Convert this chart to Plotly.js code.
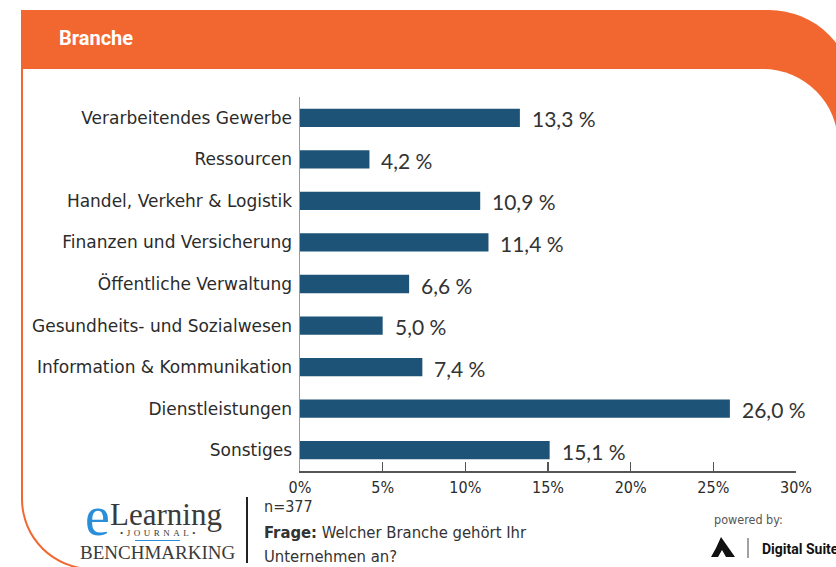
<!DOCTYPE html>
<html>
<head>
<meta charset="utf-8">
<script src="https://cdn.plot.ly/plotly-3.0.1.min.js"></script>
<style>
  html, body { margin:0; padding:0; width:836px; height:567px; overflow:hidden; background:#ffffff; }
  #frame { position:absolute; left:21px; top:10px; width:833px; height:560px; background:#F26730;
           border-radius:0 85px 0 71px; }
  #inner { position:absolute; left:23px; top:69px; width:815px; height:499px; background:#ffffff;
           border-radius:0 75px 0 69px; }
  #chart { position:absolute; left:0; top:0; width:836px; height:567px; }
</style>
</head>
<body>
<div id="frame"></div>
<div id="inner"></div>
<div id="chart"></div>
<script>
// ---- data ----
const categories = [
  "Verarbeitendes Gewerbe",
  "Ressourcen",
  "Handel, Verkehr & Logistik",
  "Finanzen und Versicherung",
  "Öffentliche Verwaltung",
  "Gesundheits- und Sozialwesen",
  "Information & Kommunikation",
  "Dienstleistungen",
  "Sonstiges"
];
const values = [13.3, 4.2, 10.9, 11.4, 6.6, 5.0, 7.4, 26.0, 15.1];
const tickValues = [0, 5, 10, 15, 20, 25, 30];
const tickLabels = ["0%", "5%", "10%", "15%", "20%", "25%", "30%"];
const chartTitle = "Branche";
const sampleNote = "n=377";
const questionLabel = "Frage:";
const questionLine1 = "Welcher Branche gehört Ihr";
const questionLine2 = "Unternehmen an?";

// ---- geometry helpers (plot area in pixels) ----
const W = 836, H = 567;
const M = {l:300, r:40, t:97, b:96};
const PW = W - M.l - M.r, PH = H - M.t - M.b;
const px = x => (x - M.l) / PW;
const py = y => (H - M.b - y) / PH;

const barColor = "#1c5376";
const textColor = "#2b2b2b";

const trace = {
  type: "bar",
  orientation: "h",
  x: values,
  y: categories,
  marker: {color: barColor},
  width: 0.44,
  hoverinfo: "skip"
};

const valueAnn = values.map((v, i) => ({
  x: v, y: categories[i], xref: "x", yref: "y",
  text: v.toFixed(1).replace(".", ",") + " %",
  showarrow: false, xanchor: "left", yanchor: "middle", xshift: 10, yshift: -1,
  font: {family: "Lato", size: 21, color: "#333333", weight: 400}
}));

const footerAnn = [
  {x: px(57), y: py(38), text: "<b>" + chartTitle + "</b>", xanchor: "left", yanchor: "middle",
   font: {family: "Roboto", size: 20, color: "#ffffff"}},
  {x: px(262), y: py(506), text: sampleNote, xanchor: "left", yanchor: "middle",
   font: {family: "DejaVu Sans Condensed", size: 16, color: "#333333"}},
  {x: px(262), y: py(532), text: "<b>" + questionLabel + "</b> " + questionLine1, xanchor: "left", yanchor: "middle",
   font: {family: "DejaVu Sans Condensed", size: 16.5, color: "#333333"}},
  {x: px(262), y: py(556), text: questionLine2, xanchor: "left", yanchor: "middle",
   font: {family: "DejaVu Sans Condensed", size: 16.5, color: "#333333"}},
  {x: px(712), y: py(519), text: "powered by:", xanchor: "left", yanchor: "middle",
   font: {family: "DejaVu Sans Condensed", size: 12.5, color: "#555555"}},
  {x: px(760), y: py(549), text: "<b>Digital Suite</b>", xanchor: "left", yanchor: "middle",
   font: {family: "Roboto", size: 14, color: "#111111"}},
  // eLearning logo
  {x: px(83), y: py(516), text: "e", xanchor: "left", yanchor: "middle",
   font: {family: "Liberation Serif", size: 56, color: "#2a8fd8"}},
  {x: px(108), y: py(514), text: "Learning", xanchor: "left", yanchor: "middle",
   font: {family: "Liberation Serif", size: 31, color: "#3a3a3a"}},
  {x: px(159), y: py(533), text: '<span style="letter-spacing:3.5px">•JOURNAL•</span>', xanchor: "center", yanchor: "middle",
   font: {family: "Liberation Serif", size: 9, color: "#3a3a3a"}},
  {x: px(157), y: py(552), text: "BENCHMARKING", xanchor: "center", yanchor: "middle",
   font: {family: "Liberation Serif", size: 19, color: "#3a3a3a"}}
].map(a => Object.assign({xref: "paper", yref: "paper", showarrow: false}, a));

const shapes = [
  // divider line in footer
  {type: "line", xref: "paper", yref: "paper", x0: px(247), x1: px(247), y0: py(497), y1: py(563),
   line: {color: "#222222", width: 2}},
  // blue underline in logo
  {type: "line", xref: "paper", yref: "paper", x0: px(135), x1: px(180), y0: py(540.5), y1: py(540.5),
   line: {color: "#2a8fd8", width: 1}},
  // Digital Suite divider
  {type: "line", xref: "paper", yref: "paper", x0: px(748), x1: px(748), y0: py(538), y1: py(558),
   line: {color: "#444444", width: 1}},
  // Digital Suite mark (delta-like glyph)
  {type: "path", xref: "paper", yref: "paper",
   path: "M " + px(721) + "," + py(537) + " L " + px(735) + "," + py(557) + " L " + px(726) + "," + py(557) +
         " L " + px(722) + "," + py(550) + " L " + px(718) + "," + py(557) + " L " + px(711) + "," + py(557) +
         " L " + px(716) + "," + py(548) + " Z",
   fillcolor: "#111111", line: {width: 0}}
];

const layout = {
  width: W, height: H,
  margin: M,
  paper_bgcolor: "rgba(0,0,0,0)",
  plot_bgcolor: "rgba(0,0,0,0)",
  showlegend: false,
  xaxis: {
    range: [0, 30], tickvals: tickValues, ticktext: tickLabels,
    showgrid: false, zeroline: false, showline: true, linecolor: "#555555", linewidth: 1.5,
    ticks: "inside", ticklen: 9, tickcolor: "#555555", tickwidth: 1.5,
    tickfont: {family: "DejaVu Sans Condensed", size: 16, color: textColor},
    ticklabelstandoff: 1, fixedrange: true
  },
  yaxis: {
    type: "category", categoryorder: "array", categoryarray: categories,
    range: [8.5, -0.5], showgrid: false, zeroline: false,
    showline: true, linecolor: "#999999", linewidth: 1.5, ticks: "",
    tickfont: {family: "DejaVu Sans", size: 17, color: textColor},
    ticklabelstandoff: 3, fixedrange: true
  },
  annotations: valueAnn.concat(footerAnn),
  shapes: shapes
};

Plotly.newPlot("chart", [trace], layout, {displayModeBar: false, staticPlot: true});
</script>
</body>
</html>
